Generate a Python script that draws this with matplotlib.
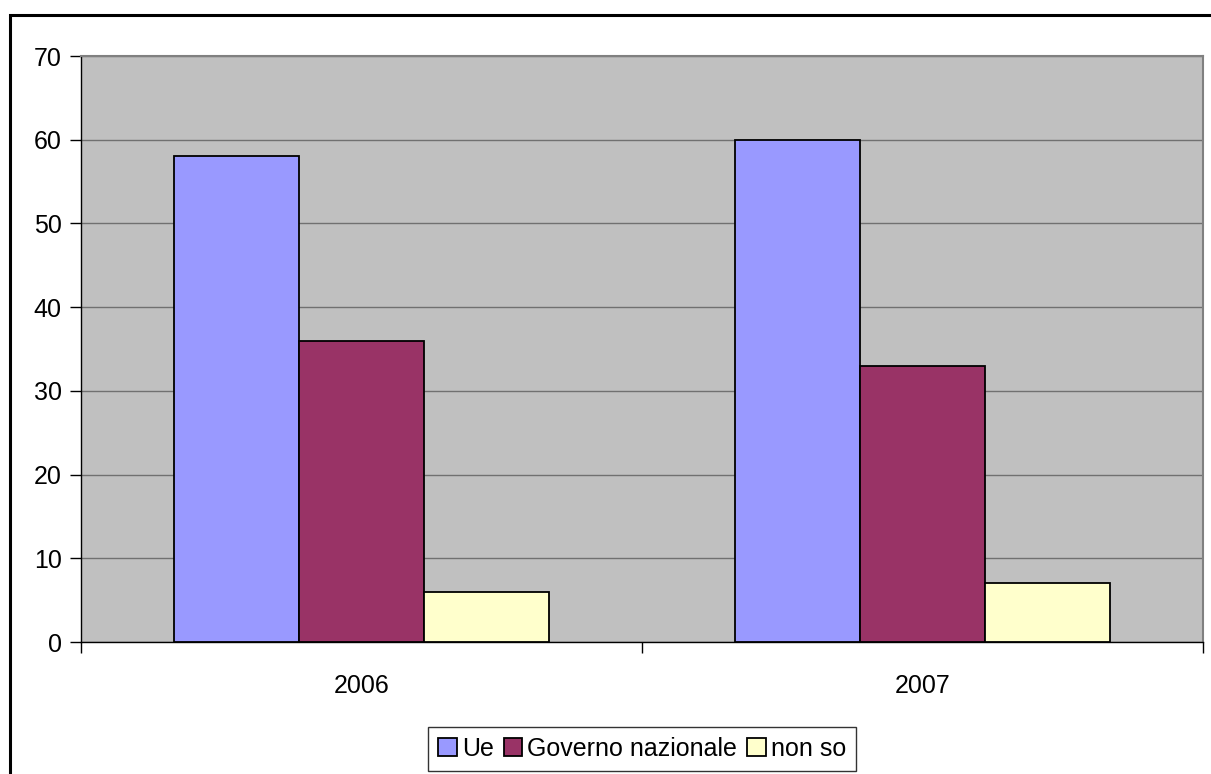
import matplotlib
matplotlib.use("Agg")
import matplotlib.pyplot as plt
from matplotlib.patches import Rectangle
import numpy as np

plt.rcParams['font.family'] = ['Liberation Sans', 'DejaVu Sans']

years = ["2006", "2007"]
series_names = ["Ue", "Governo nazionale", "non so"]
ue = [58, 60]
governo = [36, 33]
non_so = [6, 7]
colors = ["#9999FF", "#993366", "#FFFFCC"]
yticks = [0, 10, 20, 30, 40, 50, 60, 70]

W, H = 1211, 774
fig = plt.figure(figsize=(W / 100, H / 100), dpi=100)
fig.patch.set_facecolor("white")

# outer chart frame
fig.patches.append(Rectangle((10 / W, -0.05), 1.1, 1 - 15 / H + 0.05,
                             transform=fig.transFigure, fill=False,
                             edgecolor="black", linewidth=2.2, zorder=0))

ax = fig.add_axes([81 / W, 1 - 642 / H, (1203 - 81) / W, (642 - 56) / H])
ax.set_facecolor("#C0C0C0")

x = np.arange(len(years))
bw = 0.223
for i, (vals, name) in enumerate(zip([ue, governo, non_so], series_names)):
    ax.bar(x + (i - 1) * bw, vals, width=bw, color=colors[i], edgecolor="black",
           linewidth=1.3, label=name, zorder=3)

ax.set_xlim(-0.5, 1.5)
ax.set_ylim(0, 70)
ax.set_yticks(yticks)
ax.set_yticklabels([str(v) for v in yticks], fontsize=18)
ax.yaxis.grid(True, color="#707070", linewidth=1.0, zorder=1)
ax.set_axisbelow(True)

# category labels sit between boundary ticks
ax.set_xticks([-0.5, 0.5, 1.5])
ax.set_xticklabels([])
ax.set_xticks(x, minor=True)
ax.set_xticklabels(years, minor=True, fontsize=18)
ax.tick_params(axis="x", which="minor", length=0, pad=23)
ax.tick_params(axis="x", which="major", length=8, width=1, direction="out")
ax.tick_params(axis="y", length=8, width=1, direction="out", pad=6)

for side in ["top", "right"]:
    ax.spines[side].set_color("#808080")
    ax.spines[side].set_linewidth(1.5)
for side in ["left", "bottom"]:
    ax.spines[side].set_color("black")
    ax.spines[side].set_linewidth(1.0)

leg = fig.legend(loc="center", bbox_to_anchor=(642 / W, 1 - 749 / H), ncol=3,
                 fontsize=18, frameon=True, fancybox=False, edgecolor="black",
                 handlelength=0.75, handleheight=0.75, handletextpad=0.2,
                 columnspacing=0.4, borderpad=0.4, borderaxespad=0)
leg.get_frame().set_linewidth(1.0)

fig.savefig("out.png", dpi=100)
